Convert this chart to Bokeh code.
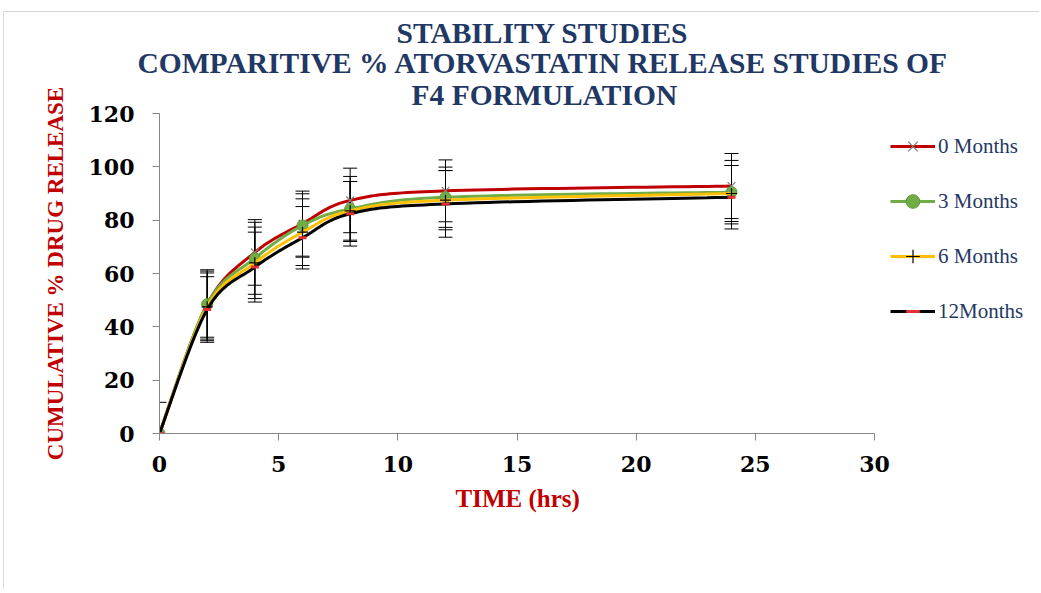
import numpy as np
from bokeh.plotting import figure
from bokeh.models import (ColumnDataSource, Whisker, TeeHead, Legend, LegendItem,
                          FixedTicker, Range1d, Title)
from bokeh.embed import file_html
from bokeh.resources import INLINE

# ---------------- data ----------------
time_hrs = [0, 2, 4, 6, 8, 12, 24]
series_names = ["0 Months", "3 Months", "6 Months", "12Months"]
rel_0m = [0.0, 48.4, 67.9, 78.7, 87.4, 91.0, 92.8]
rel_3m = [0.0, 48.5, 65.7, 78.0, 84.2, 88.6, 90.5]
rel_6m = [0.0, 47.5, 64.0, 75.5, 83.5, 87.5, 90.0]
rel_12m = [0.0, 46.5, 62.4, 73.4, 82.4, 86.1, 88.6]
err_0m = [0.0, 13.0, 12.3, 12.2, 12.1, 11.6, 12.2]
err_3m = [0.0, 12.4, 13.5, 11.9, 12.2, 11.3, 11.9]
err_6m = [0.0, 12.7, 13.4, 12.5, 11.0, 11.1, 10.5]
err_12m = [11.7, 12.3, 13.1, 11.7, 12.1, 12.5, 11.9]

title_lines = ["STABILITY STUDIES",
               "COMPARITIVE % ATORVASTATIN RELEASE STUDIES OF",
               "F4 FORMULATION"]
x_label = "TIME (hrs)"
y_label = "CUMULATIVE % DRUG RELEASE"
x_ticks = [0, 5, 10, 15, 20, 25, 30]
y_ticks = [0, 20, 40, 60, 80, 100, 120]

# ---------------- styles / layout (page pixels) ----------------
SERIF = "Liberation Serif"
TICKFONT = "DejaVu Serif"
NAVY = "#1F3864"
RED = "#C00000"
colors = [RED, "#70AD47", "#FFC000", "#000000"]
MARGIN_L, MARGIN_T = 4, 12          # chart-area border position
PAGE_W, PAGE_H = 1040, 590
FRAME_LEFT, AXIS_RIGHT, FRAME_TOP, FRAME_BOTTOM = 159, 874, 113, 433
px_per_x = (AXIS_RIGHT - FRAME_LEFT) / 30.0
x_end = (PAGE_W - FRAME_LEFT) / px_per_x


def smooth(xs, ys, n=24):
    """Excel-like smoothed line (Catmull-Rom Bezier) drawn through the data points."""
    P = np.column_stack([np.asarray(xs, float), np.asarray(ys, float)])
    out = []
    m = len(P)
    for i in range(m - 1):
        p0 = P[i - 1] if i > 0 else P[i]
        p1, p2 = P[i], P[i + 1]
        p3 = P[i + 2] if i + 2 < m else P[i + 1]
        c1 = p1 + (p2 - p0) / 6.0
        c2 = p2 - (p3 - p1) / 6.0
        t = np.linspace(0, 1, n, endpoint=(i == m - 2))[:, None]
        seg = ((1 - t) ** 3) * p1 + 3 * ((1 - t) ** 2) * t * c1 + 3 * (1 - t) * t ** 2 * c2 + t ** 3 * p2
        out.append(seg)
    out = np.vstack(out)
    return out[:, 0], out[:, 1]


W = PAGE_W - MARGIN_L
H = PAGE_H - MARGIN_T
p = figure(width=W, height=H, x_range=Range1d(0, x_end), y_range=Range1d(0, 120),
           output_backend="svg", toolbar_location=None,
           min_border_left=FRAME_LEFT - MARGIN_L, min_border_top=FRAME_TOP - MARGIN_T,
           min_border_right=0,
           min_border_bottom=H - (FRAME_TOP - MARGIN_T) - (FRAME_BOTTOM - FRAME_TOP))
p.styles = {"margin-left": f"{MARGIN_L - 1}px", "margin-top": f"{MARGIN_T - 1}px",
            "border-left": "1px solid #D9D9D9", "border-top": "1px solid #D9D9D9"}
p.outline_line_color = None
p.grid.grid_line_color = None
p.background_fill_color = "white"
p.border_fill_color = "white"

# title lines, stacked upward from the plot; left-aligned so each centres near x=541
title_specs = [(title_lines[2], 252, 6), (title_lines[1], -22, -10), (title_lines[0], 237, 1)]
for txt, off, so in title_specs:
    p.add_layout(Title(text=txt, align="left", offset=off, standoff=so,
                       text_font=SERIF, text_font_style="bold", text_font_size="29.5px",
                       text_color=NAVY), "above")

for ax in (p.xaxis[0], p.yaxis[0]):
    ax.axis_line_color = "#868686"
    ax.major_tick_line_color = "#868686"
    ax.minor_tick_line_color = None
    ax.major_tick_in = 0
    ax.major_tick_out = 7
    ax.major_label_text_font = TICKFONT
    ax.major_label_text_font_style = "bold"
    ax.major_label_text_font_size = "22px"
    ax.major_label_text_color = "#000000"
    ax.axis_label_text_font = SERIF
    ax.axis_label_text_font_style = "bold"
    ax.axis_label_text_color = RED

p.xaxis.ticker = FixedTicker(ticks=x_ticks)
p.yaxis.ticker = FixedTicker(ticks=y_ticks)
p.xaxis.bounds = (x_ticks[0], x_ticks[-1])
p.xaxis.major_label_standoff = 15
p.yaxis.major_label_standoff = 18
p.yaxis.axis_label = y_label
p.yaxis.axis_label_text_font_size = "23px"
p.yaxis.axis_label_standoff = 18

# x-axis title placed under the axis, centred under the 0-30 span
p.add_layout(Title(text=x_label, align="left", offset=455 - FRAME_LEFT, standoff=16,
                   text_font=SERIF, text_font_style="bold", text_font_size="25px",
                   text_color=RED), "below")

values = [rel_0m, rel_3m, rel_6m, rel_12m]
errors = [err_0m, err_3m, err_6m, err_12m]

for vals, errs in zip(values, errors):
    src = ColumnDataSource(dict(x=time_hrs,
                                lo=[v - e for v, e in zip(vals, errs)],
                                hi=[v + e for v, e in zip(vals, errs)]))
    w = Whisker(base="x", lower="lo", upper="hi", source=src, dimension="height",
                line_color="black", line_width=1,
                upper_head=TeeHead(size=14, line_color="black", line_width=1),
                lower_head=TeeHead(size=14, line_color="black", line_width=1))
    p.add_layout(w)

items = []
for i, (name, vals, col) in enumerate(zip(series_names, values, colors)):
    sx, sy = smooth(time_hrs, vals)
    ln = p.line(sx, sy, line_color=col, line_width=3)
    if i == 0:
        mk = p.scatter(time_hrs, vals, marker="x", size=11, line_color="#7F7F7F", line_width=1.2)
    elif i == 1:
        mk = p.scatter(time_hrs, vals, marker="circle", size=11, fill_color="#70AD47",
                       line_color="#5E9A3A")
    elif i == 2:
        mk = p.scatter(time_hrs, vals, marker="cross", size=11, line_color="black", line_width=1.2)
    else:
        mk = p.scatter(time_hrs, vals, marker="dash", size=8, line_color="#E03030", line_width=3)
    items.append(LegendItem(label=name, renderers=[ln, mk]))

ITEM_H, GAP = 34, 21
legend_h = 4 * ITEM_H + 3 * GAP
legend_top = 146 - ITEM_H // 2
legend = Legend(items=items,
                location=(890 - FRAME_LEFT, FRAME_BOTTOM - legend_top - legend_h),
                orientation="vertical",
                border_line_color=None, background_fill_alpha=0,
                padding=0, margin=0, spacing=GAP, glyph_width=45, glyph_height=ITEM_H,
                label_height=ITEM_H, label_standoff=3,
                label_text_font=SERIF, label_text_font_size="21px",
                label_text_color=NAVY)
p.add_layout(legend, "center")

open("out.html", "w").write(file_html(p, INLINE))
